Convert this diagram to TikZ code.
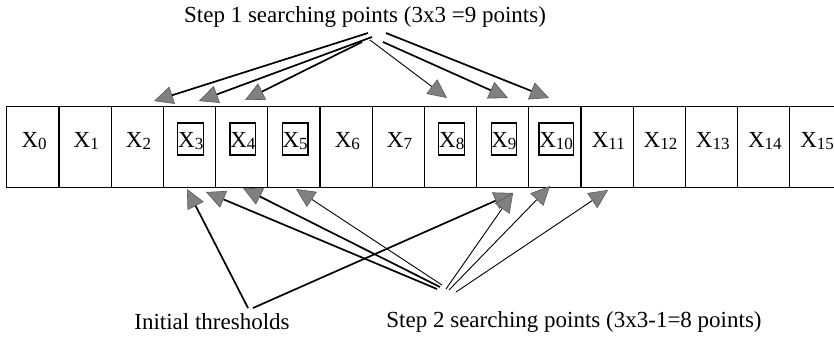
\documentclass[tikz,border=0pt]{standalone}
\usepackage{fontspec}
\setmainfont{Liberation Serif}
\usetikzlibrary{arrows.meta}
\newcommand{\XL}[1]{X\raisebox{-0.22ex}{\fontsize{17}{17}\selectfont #1}}
\tikzset{
  cell/.style={minimum width=52.2pt, minimum height=80pt, inner sep=0pt},
  rowline/.style={line width=1.3pt, line cap=rect},
  lab/.style={anchor=base, font=\fontsize{23}{23}\selectfont, inner ysep=0pt, inner xsep=0.3pt, text height=24pt, text depth=8pt},
  boxed/.style={draw, line width=1.1pt},
  txt/.style={font=\fontsize{23}{23}\selectfont, inner sep=0pt},
  arr/.style={-{Triangle[length=19pt,width=18pt,fill=black!50,color=black!65,line width=0.6pt]}},
  heavy/.style={arr, line width=1.7pt},
  thin/.style={arr, line width=0.9pt}
}
\begin{document}
\begin{tikzpicture}[x=1pt,y=-1pt]
\useasboundingbox (0,0) rectangle (834,338);
\fill[white] (0,0) rectangle (834,338);
% cells
\foreach \i in {0,...,15} {
  \node[cell] (c\i) at ({7+52.2*\i+26.1},147) {};
  \draw[rowline] (c\i.north west) -- (c\i.south west);
}
\draw[rowline] (c0.north west) -- (c15.north east);
\draw[rowline] (c0.south west) -- (c15.south east);
\draw[rowline] (c15.north east) -- (c15.south east);
\foreach \i in {0,1,2,6,7,11,12,13,14,15} {
  \node[lab] (x\i) at ({7+52.2*\i+27.1},147) {\XL{\i}};
}
\foreach \i in {3,4,5,8,9,10} {
  \node[lab,boxed] (x\i) at ({7+52.2*\i+27.1},147) {\XL{\i}};
}
% texts
\node[txt] (t1) at (365,17) {Step 1 searching points (3x3 =9 points)};
\node[txt] (it) at (212,322) {Initial thresholds};
\node[txt] (s2) at (574,322) {Step 2 searching points (3x3-1=8 points)};
% step 1 arrow points
\coordinate (a1s) at (368,33);  \coordinate (a1e) at (154,101);
\coordinate (a2s) at (372,37);  \coordinate (a2e) at (199,101);
\coordinate (a3s) at (362,42);  \coordinate (a3e) at (245,100);
\coordinate (a4s) at (370,40);  \coordinate (a4e) at (447,98);
\coordinate (a5s) at (383,42);  \coordinate (a5e) at (508,98);
\coordinate (a6s) at (386,33);  \coordinate (a6e) at (549,98);
\draw[heavy] (a1s) -- (a1e);
\draw[heavy] (a2s) -- (a2e);
\draw[heavy] (a3s) -- (a3e);
\draw[thin]  (a4s) -- (a4e);
\draw[heavy] (a5s) -- (a5e);
\draw[heavy] (a6s) -- (a6e);
% initial thresholds
\coordinate (i1s) at (248,308); \coordinate (i1e) at (187,189);
\coordinate (i2s) at (253,308); \coordinate (i2e) at (513,193);
\draw[heavy] (i1s) -- (i1e);
\draw[heavy] (i2s) -- (i2e);
% step 2
\coordinate (b1s) at (437,289); \coordinate (b1e) at (206,192);
\coordinate (b2s) at (440,287); \coordinate (b2e) at (243,188);
\coordinate (b3s) at (442,285); \coordinate (b3e) at (296,189);
\coordinate (b4s) at (446,289); \coordinate (b4e) at (513,193);
\coordinate (b5s) at (449,290); \coordinate (b5e) at (550,186);
\coordinate (b6s) at (456,292); \coordinate (b6e) at (608,190);
\draw[heavy] (b1s) -- (b1e);
\draw[heavy] (b2s) -- (b2e);
\draw[thin]  (b3s) -- (b3e);
\draw[thin]  (b4s) -- (b4e);
\draw[thin]  (b5s) -- (b5e);
\draw[thin]  (b6s) -- (b6e);
\end{tikzpicture}
\end{document}
